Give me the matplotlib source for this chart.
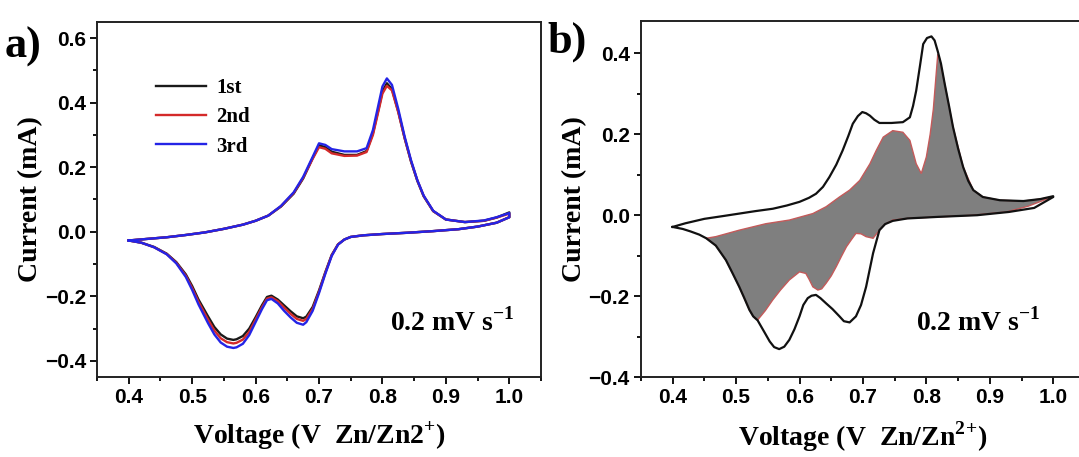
import numpy as np
import matplotlib
matplotlib.use('Agg')
import matplotlib.pyplot as plt
from matplotlib.ticker import MultipleLocator

# ---- panel a: three CV cycles, anodic (0.4 -> 1.0) and cathodic (1.0 -> 0.4) branches
v_up = [0.40, 0.43, 0.46, 0.49, 0.52, 0.55, 0.58, 0.60, 0.62, 0.64, 0.66, 0.675,
        0.69, 0.70, 0.71, 0.72, 0.74, 0.76, 0.775, 0.785, 0.795, 0.80, 0.807,
        0.815, 0.825, 0.835, 0.845, 0.855, 0.865, 0.88, 0.90, 0.93, 0.96, 0.98, 1.00]
i1_up = [-0.027, -0.022, -0.017, -0.010, -0.002, 0.009, 0.022, 0.034, 0.050, 0.078,
         0.118, 0.165, 0.228, 0.268, 0.262, 0.248, 0.238, 0.238, 0.250, 0.305,
         0.390, 0.435, 0.460, 0.442, 0.372, 0.290, 0.218, 0.158, 0.110, 0.064,
         0.038, 0.030, 0.034, 0.044, 0.060]
i2_up = [-0.027, -0.022, -0.017, -0.010, -0.002, 0.009, 0.022, 0.034, 0.050, 0.079,
         0.120, 0.167, 0.226, 0.262, 0.257, 0.243, 0.235, 0.236, 0.247, 0.300,
         0.385, 0.428, 0.452, 0.438, 0.370, 0.290, 0.219, 0.159, 0.111, 0.064,
         0.038, 0.030, 0.034, 0.044, 0.056]
i3_up = [-0.027, -0.022, -0.017, -0.010, -0.002, 0.009, 0.022, 0.034, 0.050, 0.080,
         0.122, 0.170, 0.232, 0.274, 0.269, 0.256, 0.249, 0.249, 0.259, 0.315,
         0.405, 0.450, 0.475, 0.455, 0.380, 0.295, 0.222, 0.160, 0.112, 0.065,
         0.038, 0.030, 0.035, 0.045, 0.058]

v_dn = [1.00, 0.98, 0.95, 0.92, 0.88, 0.84, 0.80, 0.77, 0.75, 0.74, 0.73, 0.72,
        0.71, 0.70, 0.69, 0.68, 0.675, 0.665, 0.655, 0.645, 0.635, 0.625, 0.618,
        0.61, 0.60, 0.59, 0.58, 0.57, 0.565, 0.555, 0.545, 0.535, 0.525, 0.51,
        0.50, 0.49, 0.475, 0.46, 0.44, 0.42, 0.40]
i1_dn = [0.045, 0.028, 0.016, 0.008, 0.002, -0.003, -0.007, -0.011, -0.016, -0.024,
         -0.039, -0.072, -0.125, -0.182, -0.233, -0.263, -0.268, -0.262, -0.246,
         -0.228, -0.210, -0.198, -0.202, -0.228, -0.265, -0.300, -0.323, -0.333,
         -0.335, -0.331, -0.318, -0.295, -0.262, -0.210, -0.168, -0.132, -0.094,
         -0.068, -0.047, -0.034, -0.027]
i2_dn = [0.045, 0.028, 0.016, 0.008, 0.002, -0.003, -0.007, -0.011, -0.016, -0.024,
         -0.039, -0.073, -0.127, -0.186, -0.239, -0.270, -0.276, -0.270, -0.254,
         -0.235, -0.215, -0.203, -0.207, -0.234, -0.272, -0.310, -0.334, -0.344,
         -0.346, -0.342, -0.330, -0.306, -0.272, -0.217, -0.174, -0.136, -0.096,
         -0.069, -0.048, -0.034, -0.027]
i3_dn = [0.045, 0.028, 0.016, 0.008, 0.002, -0.003, -0.007, -0.011, -0.016, -0.024,
         -0.040, -0.075, -0.130, -0.190, -0.245, -0.280, -0.288, -0.282, -0.265,
         -0.245, -0.222, -0.208, -0.212, -0.240, -0.280, -0.320, -0.347, -0.358,
         -0.360, -0.356, -0.343, -0.318, -0.283, -0.225, -0.180, -0.140, -0.098,
         -0.070, -0.048, -0.034, -0.027]

cycle_labels = ['1st', '2nd', '3rd']
cycle_colors = ['#1a1a1a', '#d42a2a', '#2424e6']

# ---- panel b: full CV (black outline) and the shaded inner CV
vb_up = [0.40, 0.42, 0.45, 0.48, 0.505, 0.53, 0.558, 0.58, 0.60, 0.615, 0.626, 0.637,
         0.647, 0.658, 0.668, 0.677, 0.684, 0.692, 0.699, 0.705, 0.711, 0.718, 0.726,
         0.745, 0.763, 0.774, 0.779, 0.784, 0.790, 0.795, 0.801, 0.808, 0.813, 0.818,
         0.823, 0.829, 0.836, 0.842, 0.850, 0.858, 0.866, 0.874, 0.889, 0.916, 0.953,
         0.98, 1.00]
ib_up = [-0.029, -0.020, -0.009, -0.002, 0.004, 0.010, 0.016, 0.024, 0.033, 0.043,
         0.053, 0.070, 0.094, 0.125, 0.160, 0.196, 0.226, 0.245, 0.255, 0.252,
         0.246, 0.236, 0.228, 0.228, 0.230, 0.242, 0.270, 0.308, 0.370, 0.423, 0.438,
         0.442, 0.432, 0.405, 0.375, 0.324, 0.268, 0.218, 0.165, 0.119, 0.085, 0.062,
         0.045, 0.037, 0.035, 0.040, 0.047]
vb_dn = [1.00, 0.97, 0.93, 0.88, 0.82, 0.77, 0.747, 0.735, 0.726, 0.716, 0.705, 0.697,
         0.689, 0.679, 0.670, 0.663, 0.652, 0.642, 0.633, 0.626, 0.619, 0.613, 0.606,
         0.600, 0.592, 0.584, 0.576, 0.568, 0.560, 0.553, 0.545, 0.534, 0.527, 0.521,
         0.513, 0.505, 0.494, 0.484, 0.468, 0.453, 0.442, 0.428, 0.416, 0.40]
ib_dn = [0.045, 0.018, 0.008, 0.000, -0.004, -0.008, -0.014, -0.022, -0.037, -0.094,
         -0.177, -0.222, -0.250, -0.265, -0.262, -0.250, -0.232, -0.218, -0.205,
         -0.197, -0.199, -0.205, -0.222, -0.250, -0.282, -0.308, -0.325, -0.331,
         -0.326, -0.312, -0.290, -0.260, -0.250, -0.234, -0.205, -0.177, -0.142,
         -0.111, -0.075, -0.057, -0.048, -0.040, -0.034, -0.029]

# shaded loop outline, traced from the left tip along the upper edge and back along the lower edge
vs_loop = [0.453, 0.468, 0.505, 0.547, 0.584, 0.621, 0.642, 0.663, 0.679, 0.695, 0.711,
           0.721, 0.732, 0.747, 0.763, 0.774, 0.784, 0.792, 0.800, 0.806, 0.811, 0.815,
           0.818, 0.821, 0.829, 0.842, 0.858, 0.874, 0.889, 0.916, 0.953, 0.98, 1.00,
           0.96, 0.926, 0.874, 0.821, 0.77, 0.747, 0.735, 0.726, 0.716, 0.705, 0.697,
           0.689, 0.682, 0.674, 0.666, 0.658, 0.650, 0.642, 0.635, 0.629, 0.621, 0.615,
           0.610, 0.600, 0.584, 0.570, 0.558, 0.546, 0.534, 0.527, 0.521, 0.513, 0.505,
           0.494, 0.484, 0.468, 0.453]
is_loop = [-0.057, -0.053, -0.037, -0.021, -0.012, 0.004, 0.021, 0.045, 0.062, 0.086,
           0.127, 0.160, 0.193, 0.209, 0.205, 0.185, 0.127, 0.103, 0.144, 0.200, 0.262,
           0.340, 0.398, 0.386, 0.324, 0.218, 0.119, 0.062, 0.045, 0.037, 0.035, 0.040,
           0.046, 0.022, 0.008, 0.000, -0.004, -0.008, -0.012, -0.022, -0.037, -0.057,
           -0.053, -0.046, -0.045, -0.060, -0.078, -0.102, -0.127, -0.150, -0.168,
           -0.182, -0.185, -0.177, -0.158, -0.144, -0.140, -0.160, -0.185, -0.209,
           -0.236, -0.259, -0.250, -0.234, -0.205, -0.177, -0.142, -0.111, -0.075, -0.057]

rate_text = r'0.2 mV s$^{\mathbf{-1}}$'

serif = ['Liberation Serif', 'DejaVu Serif']
sans = ['Liberation Sans', 'DejaVu Sans']
plt.rcParams['mathtext.fontset'] = 'custom'
plt.rcParams['mathtext.rm'] = 'Liberation Serif:bold'
plt.rcParams['mathtext.bf'] = 'Liberation Serif:bold'

fig = plt.figure(figsize=(10.79, 4.57), dpi=100)
ax1 = fig.add_axes([0.0899, 0.175, 0.4115, 0.777])
ax2 = fig.add_axes([0.594, 0.175, 0.4115, 0.779])


def style_axes(ax, ylim, ymajor):
    ax.set_xlim(0.35, 1.05)
    ax.set_ylim(*ylim)
    ax.xaxis.set_major_locator(MultipleLocator(0.1))
    ax.xaxis.set_minor_locator(MultipleLocator(0.05))
    ax.yaxis.set_major_locator(MultipleLocator(ymajor))
    ax.yaxis.set_minor_locator(MultipleLocator(ymajor / 2))
    ax.tick_params(which='both', direction='out', top=False, right=False, width=1.3, pad=3)
    ax.tick_params(which='major', length=5)
    ax.tick_params(which='minor', length=3)
    for sp in ax.spines.values():
        sp.set_linewidth(1.4)
        sp.set_color('#222222')
    for lab in ax.get_xticklabels() + ax.get_yticklabels():
        lab.set_family(sans)
        lab.set_fontweight('bold')
        lab.set_fontsize(15)
    ax.set_ylabel('Current (mA)', family=serif, fontweight='bold', fontsize=20, labelpad=1)


# panel a
for idn, iup, lab, col in zip([i1_dn, i2_dn, i3_dn], [i1_up, i2_up, i3_up],
                              cycle_labels, cycle_colors):
    ax1.plot(v_up + v_dn, iup + idn, color=col, lw=1.7, label=lab)
style_axes(ax1, (-0.45, 0.65), 0.2)
ax1.set_xlabel('Voltage (V  Zn/Zn2$^{+}$)', family=serif, fontweight='bold', fontsize=20,
               labelpad=9)
ax1.legend(loc='upper left', bbox_to_anchor=(0.09, 0.895), frameon=False, handlelength=2.4,
           handletextpad=0.5, labelspacing=0.45,
           prop={'family': serif, 'weight': 'bold', 'size': 15})
ax1.text(0.94, 0.155, rate_text, transform=ax1.transAxes, ha='right', va='center',
         family=serif, fontweight='bold', fontsize=20)

# panel b
ax2.fill(vs_loop, is_loop, facecolor='#7f7f7f', edgecolor='#c45a5a', lw=1.0, zorder=2)
ax2.plot(vb_up + vb_dn, ib_up + ib_dn, color='#111111', lw=1.6, zorder=3)
style_axes(ax2, (-0.4, 0.48), 0.2)
ax2.set_xlabel('Voltage (V  Zn/Zn$^{2}$$^{+}$)', family=serif, fontweight='bold',
               fontsize=20, labelpad=9)
ax2.text(0.90, 0.155, rate_text, transform=ax2.transAxes, ha='right', va='center',
         family=serif, fontweight='bold', fontsize=20)

fig.text(0.004, 0.875, 'a)', family=serif, fontweight='bold', fontsize=32)
fig.text(0.507, 0.885, 'b)', family=serif, fontweight='bold', fontsize=32)

fig.savefig('out.png', dpi=100)
